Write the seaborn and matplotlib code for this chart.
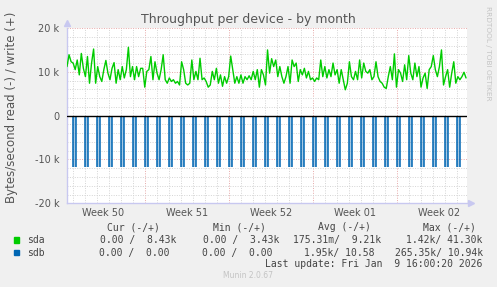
import numpy as np
import pandas as pd
import matplotlib
matplotlib.use("Agg")
import matplotlib.pyplot as plt
import seaborn as sns
from matplotlib.patches import Rectangle

# ---------------- data ----------------
# sda write throughput (thousands of bytes/s), left to right over the month
sda_write_k = [
    11.2, 13.9, 12.3, 12.0, 10.5, 12.7, 9.3, 14.2, 10.8, 8.9, 13.5, 7.4, 12.0, 15.2, 7.4, 11.2,
    8.9, 7.8, 10.5, 12.6, 9.7, 8.2, 10.8, 12.1, 7.4, 10.5, 8.2, 11.2, 8.6, 10.5, 15.6, 8.9,
    11.2, 8.2, 11.2, 8.9, 10.8, 10.8, 6.5, 10.1, 10.5, 13.5, 8.2, 12.3, 9.7, 8.2, 10.5, 13.9,
    8.2, 7.4, 8.6, 7.8, 8.2, 7.4, 7.8, 7.0, 12.3, 10.5, 7.4, 7.0, 7.4, 12.7, 8.2, 10.1,
    8.2, 13.1, 8.2, 8.6, 7.8, 6.5, 7.0, 10.1, 8.2, 10.8, 7.4, 9.3, 6.7, 8.9, 7.4, 8.9,
    13.6, 10.5, 7.4, 8.9, 7.4, 9.3, 7.4, 8.9, 8.2, 9.1,
    8.2, 10.1, 8.2, 10.5, 6.5, 10.5, 9.3, 7.0, 15.0, 9.7, 13.0, 11.2, 12.7, 8.9, 11.2, 8.9,
    7.4, 8.9, 11.2, 7.4, 12.7, 11.2, 12.0, 7.8, 10.5, 9.3, 10.8, 8.6, 10.1, 8.2, 8.6, 7.8,
    8.6, 8.2, 12.7, 8.9, 11.2, 8.6, 10.5, 8.9, 12.0, 9.3, 10.5, 7.4, 10.5, 8.2, 5.9, 7.4,
    12.3, 8.9, 8.2, 10.1, 8.2, 12.7, 8.6, 12.0, 10.1, 9.7, 10.5, 8.2, 8.9, 12.3, 8.9, 7.8,
    7.4, 6.5, 6.2, 8.9, 11.2, 8.2, 14.1, 6.5, 10.5, 9.7, 7.8, 11.6, 8.2, 13.7, 9.7, 8.2,
    12.0, 8.9, 11.2, 6.5, 8.6, 9.7, 6.2, 10.5, 11.2, 13.7, 10.5, 8.9, 11.2, 15.0, 7.0, 8.9,
    10.5, 6.5, 9.7, 12.3, 7.4, 8.9, 8.2, 8.9, 9.9, 8.6,
]
period_start_day = -0.5
period_end_day = 32.75

# daily read bursts (negative side)
spike_days = list(range(33))
spike_read_k = [-11.8] * 33
spike_duration_days = 0.28

week_labels = ["Week 50", "Week 51", "Week 52", "Week 01", "Week 02"]
week_centers = [2.5, 9.5, 16.5, 23.5, 30.5]
week_bounds = [6, 13, 20, 27]
y_ticks = [-20000, -10000, 0, 10000, 20000]
y_tick_labels = ["-20 k", "-10 k", "0", "10 k", "20 k"]

legend_headers = ["Cur (-/+)", "Min (-/+)", "Avg (-/+)", "Max (-/+)"]
legend_names = ["sda", "sdb"]
legend_colors = ["#00cc00", "#0066b3"]
legend_values = [
    ["0.00 /  8.43k", "0.00 /  3.43k", "175.31m/  9.21k", "1.42k/ 41.30k"],
    ["0.00 /  0.00", "0.00 /  0.00", "1.95k/ 10.58", "265.35k/ 10.94k"],
]
title = "Throughput per device - by month"
ylabel = "Bytes/second read (-) / write (+)"
last_update = "Last update: Fri Jan  9 16:00:20 2026"

# ---------------- style ----------------
sns.set_theme(style="white")
plt.rcParams["font.family"] = ["DejaVu Sans"]

W, H = 497, 287
fig = plt.figure(figsize=(W / 100, H / 100), dpi=100, facecolor="#f0f0f0")
ax_left, ax_right, ax_top, ax_bot = 67, 467, 28, 203.3
ax = fig.add_axes([ax_left / W, 1 - ax_bot / H, (ax_right - ax_left) / W, (ax_bot - ax_top) / H])
ax.set_facecolor("white")
ax.set_xlim(-0.5, 32.83)
ax.set_ylim(-20000, 20000)

grid_kw = dict(linestyle=(0, (1, 1.5)), linewidth=0.7, zorder=0)
for d in range(33):
    col = "#e6a8a8" if d in week_bounds else "#d4d4d4"
    ax.axvline(d, color=col, **grid_kw)
for yv in range(-20000, 20001, 2000):
    if yv == 0:
        continue
    col = "#e6a8a8" if yv % 10000 == 0 else "#d4d4d4"
    ax.axhline(yv, color=col, **grid_kw)

# read spikes
for d, v in zip(spike_days, spike_read_k):
    ax.fill_between([d, d + spike_duration_days], 0, v * 1000, color="#0066b3",
                    alpha=0.35, linewidth=0, zorder=2)
    ax.vlines([d, d + spike_duration_days], v * 1000, 0, color="#0066b3",
              linewidth=1.1, zorder=3)

# write line
df = pd.DataFrame({
    "day": np.linspace(period_start_day, period_end_day, len(sda_write_k)),
    "bytes": np.array(sda_write_k) * 1000,
})
sns.lineplot(data=df, x="day", y="bytes", color="#00cc00", linewidth=1.0, ax=ax, zorder=4)
ax.axhline(0, color="black", linewidth=1.0, zorder=5)

ax.set_xlabel("")
ax.set_ylabel("")
ax.set_xticks(week_centers, week_labels)
ax.set_yticks(y_ticks, y_tick_labels)
ax.tick_params(axis="both", length=0, labelsize=7, labelcolor="#555555")
ax.tick_params(axis="y", pad=5.5)
ax.tick_params(axis="x", pad=3.5)
for s in ["top", "right"]:
    ax.spines[s].set_visible(False)
for s in ["left", "bottom"]:
    ax.spines[s].set_color("#c8c8f0")
    ax.spines[s].set_linewidth(1.0)
ax.plot([0], [1.03], marker="^", color="#c8c8f0", markersize=5, transform=ax.transAxes, clip_on=False)
ax.plot([1.01], [0], marker=">", color="#c8c8f0", markersize=5, transform=ax.transAxes, clip_on=False)

# texts
def fx(x):
    return x / W

def fy(y):
    return 1 - y / H

fig.text(0.5, fy(19), title, ha="center", va="center", fontsize=9, color="#555555")
fig.text(fx(12), fy(107.5), ylabel, ha="center", va="center", rotation=90, fontsize=8.5, color="#555555")
fig.text(fx(488), fy(53), "RRDTOOL / TOBI OETIKER", ha="center", va="center", rotation=270,
         fontsize=5.3, color="#c4c4c4")

mono = "DejaVu Sans Mono"
header_ends = [160, 265.7, 371, 476]
for h, xe in zip(legend_headers, header_ends):
    fig.text(fx(xe), fy(227.3), h, ha="right", va="center", family=mono, fontsize=7, color="#444444")

row_y = [240, 252.7]
value_ends = [[176, 279, 380.7, 482.7], [169.3, 272.7, 375, 482.7]]
for i, name in enumerate(legend_names):
    fig.patches.append(Rectangle((fx(14), fy(row_y[i] + 2.7)), 5.3 / W, 5.3 / H,
                                 transform=fig.transFigure, color=legend_colors[i]))
    fig.text(fx(27), fy(row_y[i]), name, ha="left", va="center", family=mono, fontsize=7, color="#444444")
    for val, xe in zip(legend_values[i], value_ends[i]):
        fig.text(fx(xe), fy(row_y[i]), val, ha="right", va="center", family=mono, fontsize=7, color="#444444")

fig.text(fx(482.7), fy(263.7), last_update, ha="right", va="center", family=mono, fontsize=7, color="#444444")
fig.text(fx(248), fy(276), "Munin 2.0.67", ha="center", va="center", fontsize=5.5, color="#c4c4c4")

fig.savefig("out.png", dpi=100, facecolor=fig.get_facecolor())
